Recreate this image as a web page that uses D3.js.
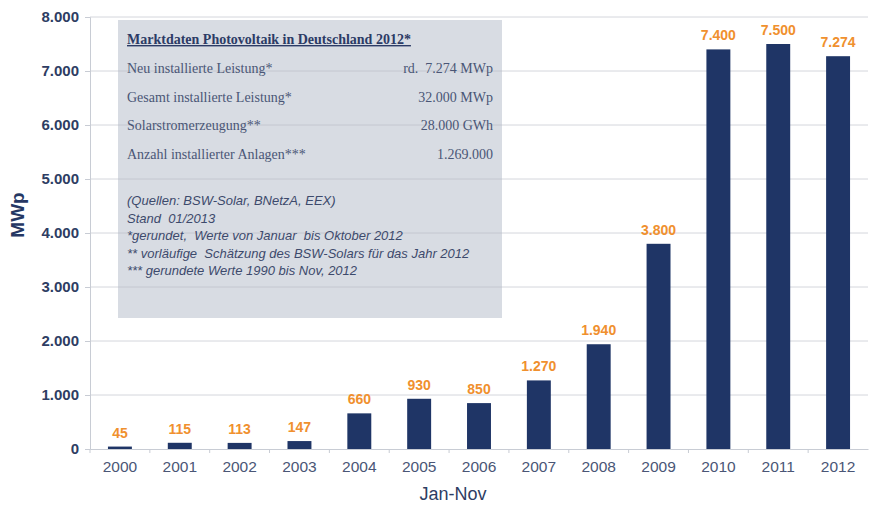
<!DOCTYPE html>
<html>
<head>
<meta charset="utf-8">
<script src="https://cdn.jsdelivr.net/npm/d3@7"></script>
<style>
  body { margin: 0; background: #fff; }
  svg { display: block; }
  svg text { white-space: pre; }
</style>
</head>
<body>
<svg id="chart" width="874" height="506"></svg>
<script>
// Data
const years = ["2000", "2001", "2002", "2003", "2004", "2005", "2006", "2007", "2008", "2009", "2010", "2011", "2012"];
const values = [45, 115, 113, 147, 660, 930, 850, 1270, 1940, 3800, 7400, 7500, 7274];
const valueLabels = ["45", "115", "113", "147", "660", "930", "850", "1.270", "1.940", "3.800", "7.400", "7.500", "7.274"];
const yTicks = [0, 1000, 2000, 3000, 4000, 5000, 6000, 7000, 8000];
const boxRows = [
  ["Neu installierte Leistung*", "rd.  7.274 MWp"],
  ["Gesamt installierte Leistung*", "32.000 MWp"],
  ["Solarstromerzeugung**", "28.000 GWh"],
  ["Anzahl installierter Anlagen***", "1.269.000"]
];
const noteLines = [
  "(Quellen: BSW-Solar, BNetzA, EEX)",
  "Stand  01/2013",
  "*gerundet,  Werte von Januar  bis Oktober 2012",
  "** vorläufige  Schätzung des BSW-Solars für das Jahr 2012",
  "*** gerundete Werte 1990 bis Nov, 2012"
];

const svg = d3.select("#chart");
const margin = { left: 90, right: 6, top: 17, bottom: 57 };
const W = 874, H = 506;

const x = d3.scaleBand().domain(years).range([margin.left, W - margin.right]).paddingInner(0.6).paddingOuter(0.3);
const y = d3.scaleLinear().domain([0, 8000]).range([H - margin.bottom, margin.top]);

const navy = "#1f3566";
const sans = "Liberation Sans, Arial, sans-serif";
const serif = "Liberation Serif, DejaVu Serif, serif";

// annotation box (behind gridlines)
svg.append("rect")
  .attr("x", 118).attr("y", 20).attr("width", 384).attr("height", 298)
  .attr("fill", "#d8dce3");

// gridlines
svg.append("g").selectAll("line").data(yTicks.slice(1)).join("line")
  .attr("x1", margin.left).attr("x2", W - margin.right)
  .attr("y1", d => y(d)).attr("y2", d => y(d))
  .attr("stroke", "#b8bcc6").attr("stroke-opacity", 0.6).attr("stroke-width", 1);

// y axis
const yAxis = svg.append("g").attr("transform", `translate(${margin.left},0)`)
  .call(d3.axisLeft(y).tickValues(yTicks).tickSize(5).tickPadding(6)
    .tickFormat(d => d3.format(",")(d).replace(/,/g, ".")));
yAxis.select(".domain").attr("stroke", "#c8ccd4");
yAxis.selectAll(".tick line").attr("stroke", "#c8ccd4");
yAxis.selectAll("text").attr("fill", "#2e3d63").attr("font-family", sans)
  .attr("font-size", 15).attr("font-weight", "bold");

// x axis
const xAxis = svg.append("g").attr("transform", `translate(0,${y(0)})`)
  .call(d3.axisBottom(x).tickSize(0).tickPadding(12));
xAxis.select(".domain").attr("stroke", "#c8ccd4");
xAxis.selectAll("text").attr("fill", "#4a5676").attr("font-family", sans)
  .attr("font-size", 15.5);

// small ticks at the category boundaries
const half = (x.step() - x.bandwidth()) / 2;
svg.append("g").selectAll("line").data(years).join("line")
  .attr("x1", d => x(d) - half).attr("x2", d => x(d) - half)
  .attr("y1", y(0)).attr("y2", y(0) + 4)
  .attr("stroke", "#c8ccd4");

// bars
svg.append("g").selectAll("rect").data(values).join("rect")
  .attr("x", (d, i) => x(years[i]))
  .attr("width", x.bandwidth())
  .attr("y", d => y(d))
  .attr("height", d => y(0) - y(d))
  .attr("fill", navy);

// value labels
svg.append("g").selectAll("text").data(values).join("text")
  .attr("x", (d, i) => x(years[i]) + x.bandwidth() / 2)
  .attr("y", d => y(d) - 9)
  .attr("text-anchor", "middle")
  .attr("fill", "#f0902e")
  .attr("font-family", sans)
  .attr("font-size", 14).attr("font-weight", "bold")
  .text((d, i) => valueLabels[i]);

// axis titles
svg.append("text")
  .attr("transform", "translate(24,215) rotate(-90)")
  .attr("text-anchor", "middle")
  .attr("fill", "#253763")
  .attr("font-family", sans)
  .attr("font-size", 19).attr("font-weight", "bold")
  .text("MWp");
svg.append("text")
  .attr("x", 453).attr("y", 500)
  .attr("text-anchor", "middle")
  .attr("fill", "#2e3d63")
  .attr("font-family", sans)
  .attr("font-size", 18)
  .text("Jan-Nov");

// box contents
svg.append("text")
  .attr("x", 127).attr("y", 44)
  .attr("fill", "#2c3b66").attr("font-family", serif)
  .attr("font-size", 14).attr("font-weight", "bold")
  .attr("text-decoration", "underline")
  .text("Marktdaten Photovoltaik in Deutschland 2012*");

const rows = svg.append("g").selectAll("g").data(boxRows).join("g")
  .attr("transform", (d, i) => `translate(0,${73 + i * 28.5})`);
rows.append("text").attr("x", 127)
  .attr("fill", "#4a5676").attr("font-family", serif).attr("font-size", 14)
  .text(d => d[0]);
rows.append("text").attr("x", 493).attr("text-anchor", "end")
  .attr("fill", "#4a5676").attr("font-family", serif).attr("font-size", 14)
  .text(d => d[1]);

svg.append("g").selectAll("text").data(noteLines).join("text")
  .attr("x", 127).attr("y", (d, i) => 205 + i * 17.5)
  .attr("fill", "#3d4a6c")
  .attr("font-family", sans)
  .attr("font-size", 13).attr("font-style", "italic")
  .text(d => d);
</script>
</body>
</html>
